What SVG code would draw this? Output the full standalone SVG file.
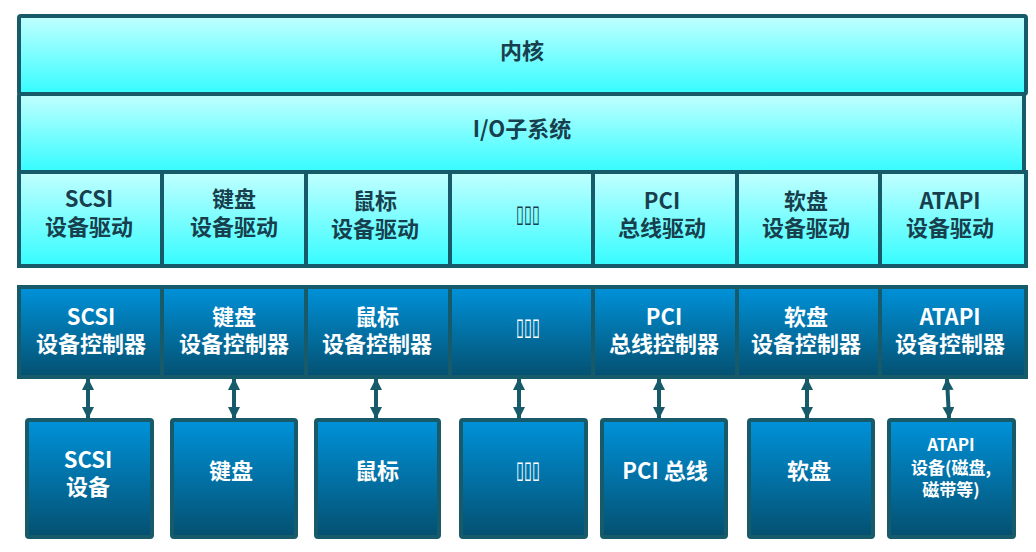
<svg xmlns="http://www.w3.org/2000/svg" width="1036" height="552" viewBox="0 0 1036 552">
<defs>
<linearGradient id="cy" x1="0" y1="0" x2="0" y2="1">
<stop offset="0" stop-color="#c2ffff"/>
<stop offset="1" stop-color="#35fcff"/>
</linearGradient>
<linearGradient id="bl" x1="0" y1="0" x2="0" y2="1">
<stop offset="0" stop-color="#0092da"/>
<stop offset="1" stop-color="#045070"/>
</linearGradient>
<marker id="ah" viewBox="0 0 12 12" refX="11" refY="6" markerWidth="12" markerHeight="12" markerUnits="userSpaceOnUse" orient="auto-start-reverse">
<path d="M0,0 L12,6 L0,12 Z" fill="#175a6a"/>
</marker>
<style>
.c{fill:url(#cy);stroke:#175a6a;stroke-width:4}
.b{fill:url(#bl);stroke:#175a6a;stroke-width:4}
.td{font-family:"Noto Sans CJK SC","Liberation Sans",sans-serif;font-weight:bold;font-size:22px;fill:#173f4e;text-anchor:middle}
.tw{font-family:"Noto Sans CJK SC","Liberation Sans",sans-serif;font-weight:bold;font-size:22px;fill:#ffffff;text-anchor:middle}
.ts{font-size:17px}
.tf{font-family:"DejaVu Sans",sans-serif;font-size:24px;font-weight:normal}
.ar{stroke:#175a6a;stroke-width:4;fill:none}
</style>
</defs>
<g id="kernel">
<rect class="c" x="19" y="16" width="1007" height="78" rx="2"/>
<text class="td" x="522" y="59">内核</text>
</g>
<g id="io">
<rect class="c" x="19" y="94" width="1005" height="78" rx="2"/>
<text class="td" x="522" y="137">I/O子系统</text>
</g>
<g id="drivers">
<rect class="c" x="19" y="172" width="1007" height="94" rx="2"/>
<g id="drv-scsi"><rect class="c" x="19" y="172" width="143" height="94"/><text class="td"><tspan x="89" y="207">SCSI</tspan><tspan x="89" y="235">设备驱动</tspan></text></g>
<g id="drv-kb"><rect class="c" x="162" y="172" width="144" height="94"/><text class="td"><tspan x="234" y="207">键盘</tspan><tspan x="234" y="235">设备驱动</tspan></text></g>
<g id="drv-mouse"><rect class="c" x="306" y="172" width="144" height="94"/><text class="td"><tspan x="375" y="209">鼠标</tspan><tspan x="375" y="237">设备驱动</tspan></text></g>
<g id="drv-etc"><rect class="c" x="450" y="172" width="143" height="94"/><text class="td tf" x="528" y="222" textLength="24" lengthAdjust="spacingAndGlyphs">▯▯▯</text></g>
<g id="drv-pci"><rect class="c" x="593" y="172" width="144" height="94"/><text class="td"><tspan x="662" y="209">PCI</tspan><tspan x="662" y="236">总线驱动</tspan></text></g>
<g id="drv-fd"><rect class="c" x="737" y="172" width="143" height="94"/><text class="td"><tspan x="806" y="209">软盘</tspan><tspan x="806" y="236">设备驱动</tspan></text></g>
<g id="drv-atapi"><rect class="c" x="880" y="172" width="146" height="94"/><text class="td"><tspan x="950" y="209">ATAPI</tspan><tspan x="950" y="236">设备驱动</tspan></text></g>
</g>
<g id="controllers">
<rect class="b" x="19" y="287" width="1007" height="90" rx="2"/>
<g id="ctl-scsi"><rect class="b" x="19" y="287" width="143" height="90"/><text class="tw"><tspan x="91" y="325">SCSI</tspan><tspan x="91" y="352">设备控制器</tspan></text></g>
<g id="ctl-kb"><rect class="b" x="162" y="287" width="144" height="90"/><text class="tw"><tspan x="234" y="325">键盘</tspan><tspan x="234" y="352">设备控制器</tspan></text></g>
<g id="ctl-mouse"><rect class="b" x="306" y="287" width="144" height="90"/><text class="tw"><tspan x="377" y="325">鼠标</tspan><tspan x="377" y="352">设备控制器</tspan></text></g>
<g id="ctl-etc"><rect class="b" x="450" y="287" width="143" height="90"/><text class="tw tf" x="528" y="335" textLength="24" lengthAdjust="spacingAndGlyphs">▯▯▯</text></g>
<g id="ctl-pci"><rect class="b" x="593" y="287" width="144" height="90"/><text class="tw"><tspan x="664" y="325">PCI</tspan><tspan x="664" y="352">总线控制器</tspan></text></g>
<g id="ctl-fd"><rect class="b" x="737" y="287" width="143" height="90"/><text class="tw"><tspan x="806" y="325">软盘</tspan><tspan x="806" y="352">设备控制器</tspan></text></g>
<g id="ctl-atapi"><rect class="b" x="880" y="287" width="146" height="90"/><text class="tw"><tspan x="950" y="325">ATAPI</tspan><tspan x="950" y="352">设备控制器</tspan></text></g>
</g>
<g id="connectors">
<line class="ar" x1="88" y1="379" x2="88" y2="418" marker-start="url(#ah)" marker-end="url(#ah)"/>
<line class="ar" x1="234" y1="379" x2="234" y2="418" marker-start="url(#ah)" marker-end="url(#ah)"/>
<line class="ar" x1="376" y1="379" x2="376" y2="418" marker-start="url(#ah)" marker-end="url(#ah)"/>
<line class="ar" x1="519" y1="379" x2="519" y2="418" marker-start="url(#ah)" marker-end="url(#ah)"/>
<line class="ar" x1="659" y1="379" x2="659" y2="418" marker-start="url(#ah)" marker-end="url(#ah)"/>
<line class="ar" x1="807" y1="379" x2="807" y2="418" marker-start="url(#ah)" marker-end="url(#ah)"/>
<line class="ar" x1="947" y1="379" x2="949" y2="418" marker-start="url(#ah)" marker-end="url(#ah)"/>
</g>
<g id="dev-scsi"><rect class="b" x="27" y="420" width="125" height="117" rx="2"/><text class="tw"><tspan x="88" y="468">SCSI</tspan><tspan x="88" y="495">设备</tspan></text></g>
<g id="dev-kb"><rect class="b" x="172" y="420" width="124" height="117" rx="2"/><text class="tw" x="231" y="479">键盘</text></g>
<g id="dev-mouse"><rect class="b" x="316" y="420" width="123" height="117" rx="2"/><text class="tw" x="377" y="479">鼠标</text></g>
<g id="dev-etc"><rect class="b" x="461" y="420" width="125" height="117" rx="2"/><text class="tw tf" x="528" y="478" textLength="24" lengthAdjust="spacingAndGlyphs">▯▯▯</text></g>
<g id="dev-pci"><rect class="b" x="602" y="420" width="124" height="117" rx="2"/><text class="tw" x="665" y="479">PCI 总线</text></g>
<g id="dev-fd"><rect class="b" x="749" y="420" width="124" height="117" rx="2"/><text class="tw" x="809" y="479">软盘</text></g>
<g id="dev-atapi"><rect class="b" x="889" y="420" width="125" height="117" rx="2"/><text class="tw ts"><tspan x="951" y="451">ATAPI</tspan><tspan x="951" y="474">设备(磁盘,</tspan><tspan x="951" y="496">磁带等)</tspan></text></g>
</svg>
